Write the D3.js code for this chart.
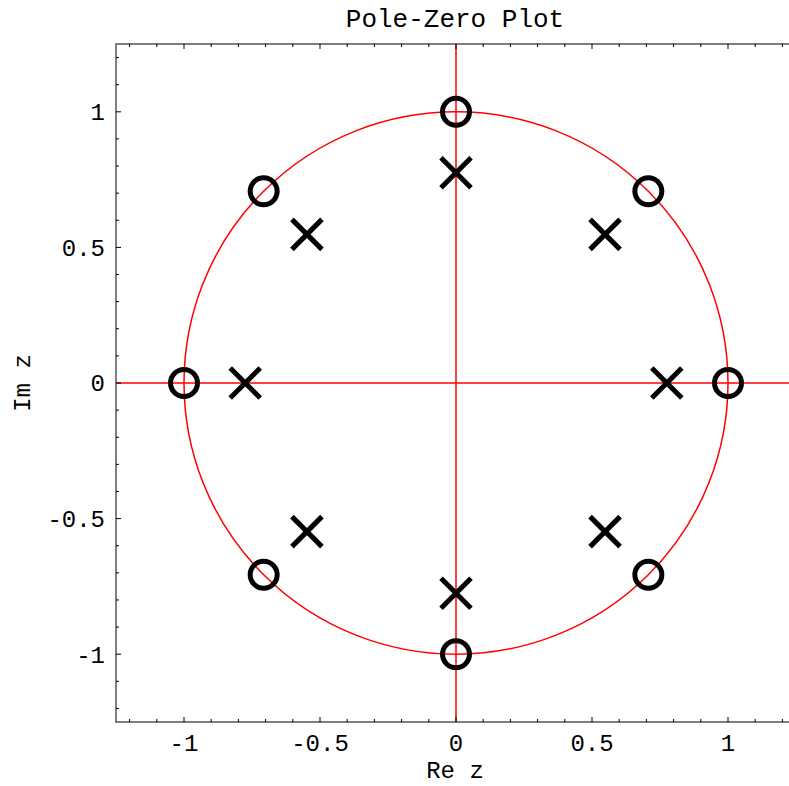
<!DOCTYPE html>
<html>
<head>
<meta charset="utf-8">
<script src="https://cdn.jsdelivr.net/npm/d3@7"></script>
<style>
  html, body { margin: 0; padding: 0; background: #fff; }
  svg { display: block; }
  text { font-family: "Liberation Mono", "DejaVu Sans Mono", monospace; fill: #000; }
</style>
</head>
<body>
<svg id="chart" width="789" height="786"></svg>
<script>
// Zeros of the system (on the unit circle)
const zeroRe = [1, 0.7071, 0, -0.7071, -1, -0.7071, 0, 0.7071];
const zeroIm = [0, 0.7071, 1, 0.7071, 0, -0.7071, -1, -0.7071];
// Poles of the system (radius ≈ 0.775)
const poleRe = [0.775, 0.548, 0, -0.548, -0.775, -0.548, 0, 0.548];
const poleIm = [0, 0.548, 0.775, 0.548, 0, -0.548, -0.775, -0.548];
// Tick labels
const xTicks = [-1, -0.5, 0, 0.5, 1];
const yTicks = [-1, -0.5, 0, 0.5, 1];

const svg = d3.select("#chart");
const frameL = 116, frameT = 44, frameB = 722, frameR = 796;

const x = d3.scaleLinear().domain([-1.25, 1.25]).range([frameL, frameR]);
const y = d3.scaleLinear().domain([-1.25, 1.25]).range([frameB, frameT]);

const fmt = d => d === 0 ? "0" : String(d);
const minor = d3.range(-12, 13).map(i => i / 10);
const isMajor = v => Math.abs(v * 2 - Math.round(v * 2)) < 1e-9;

// Red reference lines: real axis, imaginary axis, unit circle
svg.append("line").attr("x1", frameL).attr("x2", frameR).attr("y1", y(0)).attr("y2", y(0))
  .attr("stroke", "#ff0000").attr("stroke-width", 1.5);
svg.append("line").attr("x1", x(0)).attr("x2", x(0)).attr("y1", frameT).attr("y2", frameB)
  .attr("stroke", "#ff0000").attr("stroke-width", 1.5);
svg.append("ellipse").attr("cx", x(0)).attr("cy", y(0))
  .attr("rx", x(1) - x(0)).attr("ry", y(0) - y(1))
  .attr("fill", "none").attr("stroke", "#ff0000").attr("stroke-width", 1.5);

// Frame
svg.append("rect").attr("x", frameL).attr("y", frameT)
  .attr("width", frameR - frameL).attr("height", frameB - frameT)
  .attr("fill", "none").attr("stroke", "#555").attr("stroke-width", 1.5);

// Inward ticks on all four sides
const tickG = svg.append("g").attr("stroke", "#000").attr("stroke-width", 1);
minor.forEach(v => {
  const len = isMajor(v) ? 5 : 3;
  tickG.append("line").attr("x1", x(v)).attr("x2", x(v)).attr("y1", frameB).attr("y2", frameB - len);
  tickG.append("line").attr("x1", x(v)).attr("x2", x(v)).attr("y1", frameT).attr("y2", frameT + len);
  tickG.append("line").attr("y1", y(v)).attr("y2", y(v)).attr("x1", frameL).attr("x2", frameL + len);
  tickG.append("line").attr("y1", y(v)).attr("y2", y(v)).attr("x1", frameR).attr("x2", frameR - len);
});

// Tick labels
svg.append("g").selectAll("text").data(xTicks).join("text")
  .attr("x", d => x(d)).attr("y", 751)
  .attr("text-anchor", "middle").attr("font-size", 24)
  .text(fmt);
svg.append("g").selectAll("text").data(yTicks).join("text")
  .attr("x", 105).attr("y", d => y(d)).attr("dy", "0.35em")
  .attr("text-anchor", "end").attr("font-size", 24)
  .text(fmt);

// Titles
svg.append("text").attr("x", 455).attr("y", 27).attr("text-anchor", "middle")
  .attr("font-size", 26).text("Pole-Zero Plot");
svg.append("text").attr("x", 455).attr("y", 778).attr("text-anchor", "middle")
  .attr("font-size", 24).text("Re z");
svg.append("text").attr("transform", `translate(30,${y(0)}) rotate(-90)`)
  .attr("text-anchor", "middle").attr("font-size", 24).text("Im z");

// Zeros as circles
const zeros = zeroRe.map((r, i) => ({ re: r, im: zeroIm[i] }));
svg.append("g").selectAll("circle").data(zeros).join("circle")
  .attr("cx", d => x(d.re)).attr("cy", d => y(d.im)).attr("r", 13.5)
  .attr("fill", "none").attr("stroke", "#000").attr("stroke-width", 5);

// Poles as crosses
const poles = poleRe.map((r, i) => ({ re: r, im: poleIm[i] }));
const arm = 15;
svg.append("g").selectAll("path").data(poles).join("path")
  .attr("d", d => {
    const cx = x(d.re), cy = y(d.im);
    return `M${cx - arm},${cy - arm}L${cx + arm},${cy + arm}M${cx - arm},${cy + arm}L${cx + arm},${cy - arm}`;
  })
  .attr("fill", "none").attr("stroke", "#000").attr("stroke-width", 5);
</script>
</body>
</html>
